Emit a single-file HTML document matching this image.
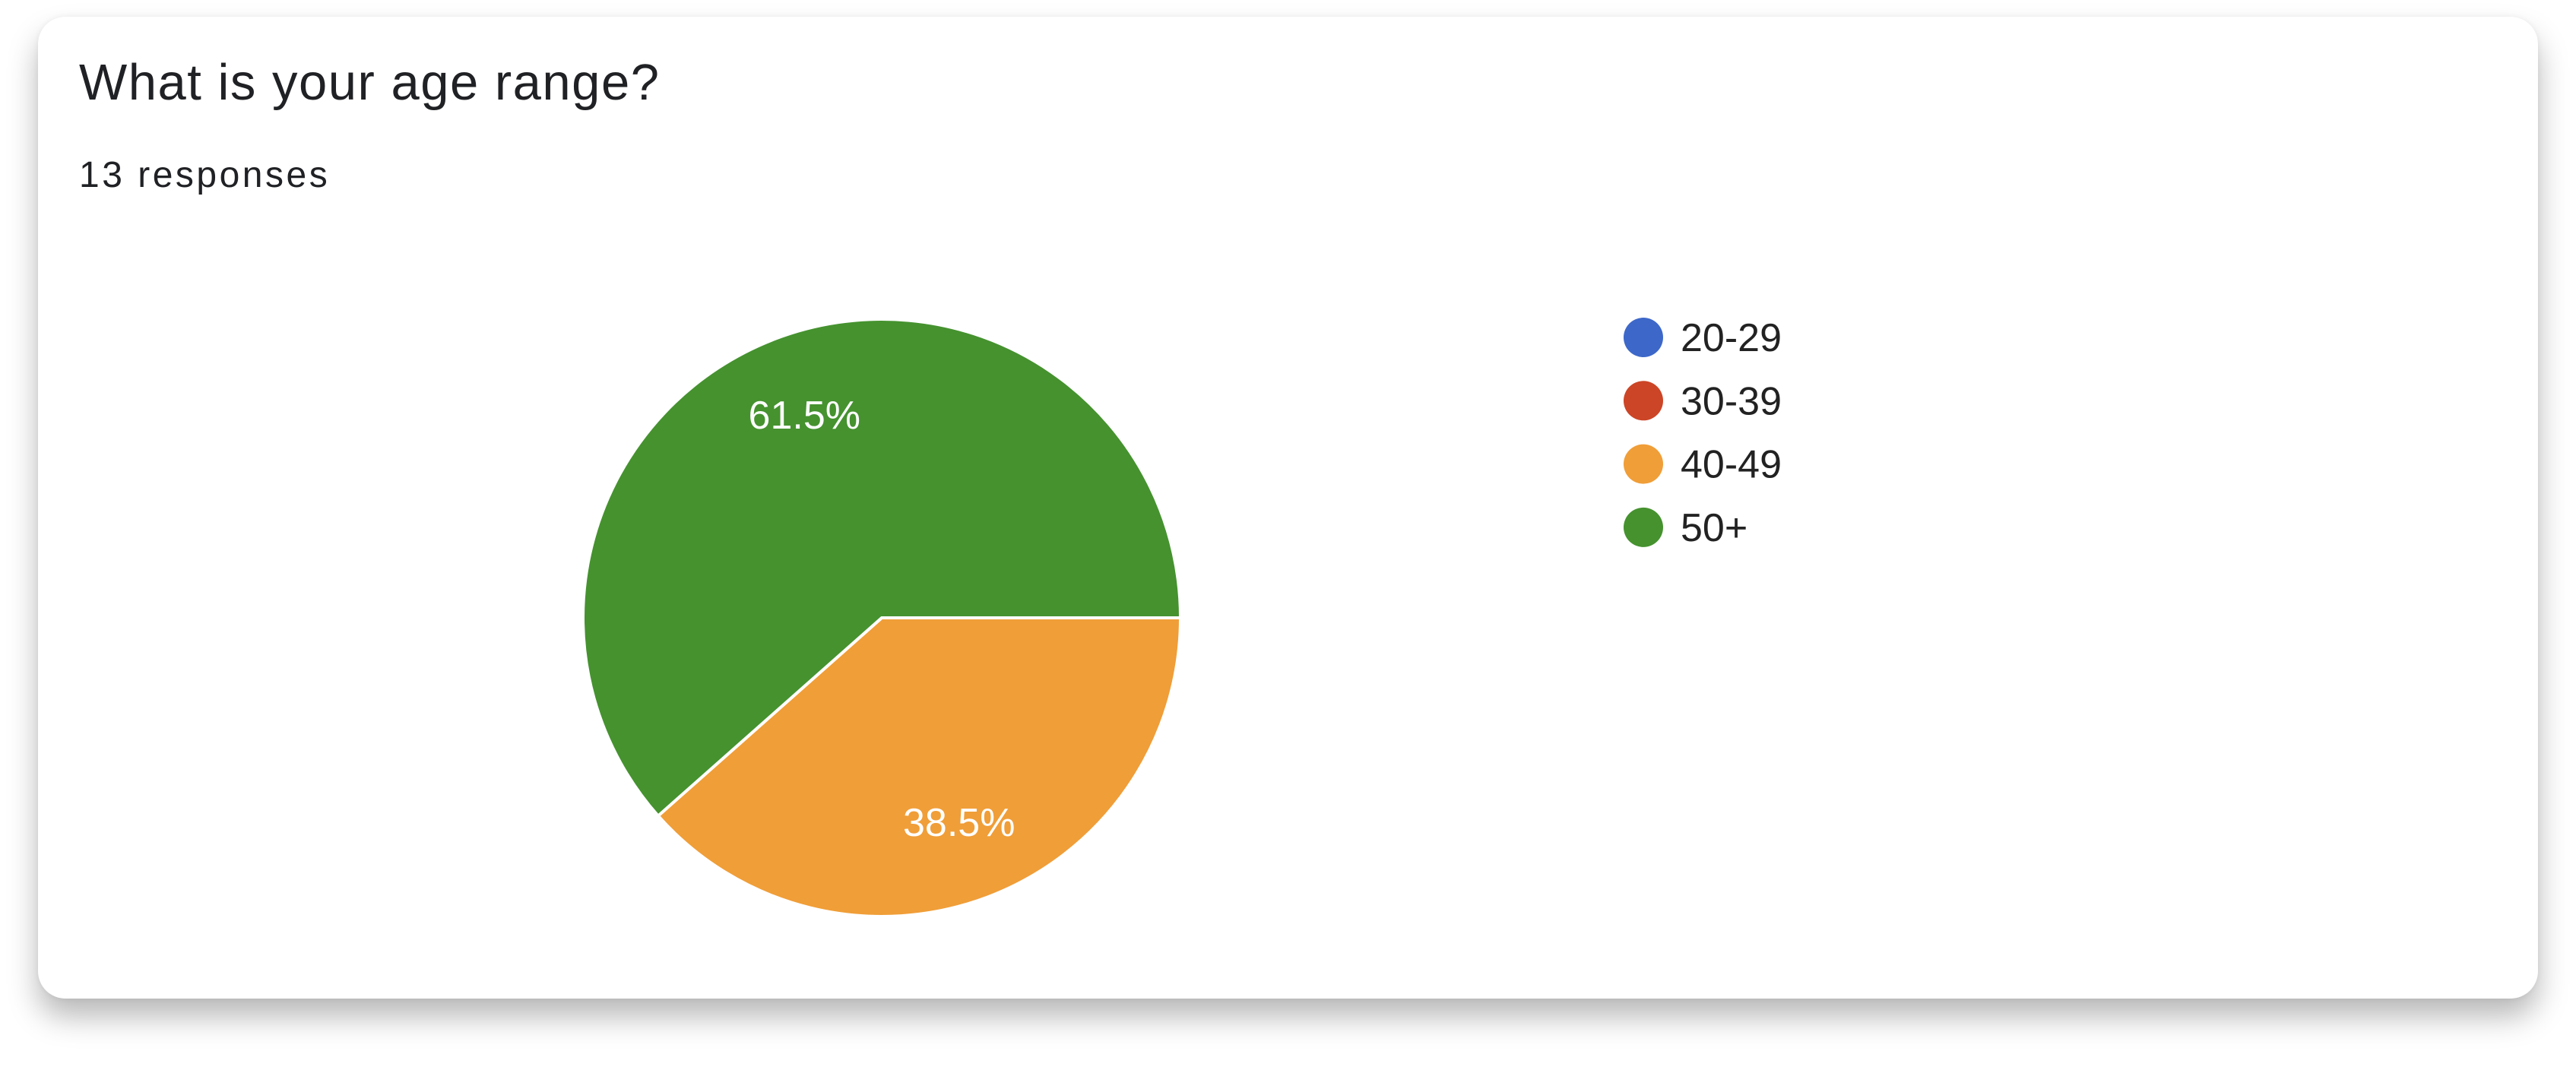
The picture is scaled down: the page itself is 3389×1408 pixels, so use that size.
<!DOCTYPE html>
<html><head><meta charset="utf-8">
<style>
html,body{margin:0;padding:0;background:#fff;width:3389px;height:1408px;overflow:hidden;font-family:"Liberation Sans",Arial,sans-serif;}
#card{position:absolute;left:50px;top:22px;width:3289px;height:1292px;background:#fff;border-radius:36px;box-shadow:0 24px 40px rgba(0,0,0,0.28),0 0 8px rgba(0,0,0,0.06);}
#title{position:absolute;left:104px;top:70px;font-size:67px;letter-spacing:1.5px;color:#202124;white-space:nowrap;}
#sub{position:absolute;left:104px;top:203px;font-size:48px;color:#202124;letter-spacing:3.5px;white-space:nowrap;}
svg{position:absolute;left:0;top:0;}
</style></head><body>
<div id="card"></div>
<div id="title">What is your age range?</div>
<div id="sub">13 responses</div>
<svg id="chart" width="3389" height="1408"></svg>
<script>
const categories=["20-29","30-39","40-49","50+"];
const values=[0,0,5,8];
const colors=["#3d68c9","#cc4526","#f09e38","#45922f"];
const NS="http://www.w3.org/2000/svg";
const svg=document.getElementById('chart');
const cx=1160,cy=813,r=393,startDeg=90;
const total=values.reduce((a,b)=>a+b,0);
function pt(deg,d){const a=deg*Math.PI/180;return [cx+d*Math.sin(a),cy-d*Math.cos(a)];}
let ang=startDeg;
values.forEach((v,i)=>{
  if(v<=0)return;
  const sweep=v/total*360;
  const [x1,y1]=pt(ang,r),[x2,y2]=pt(ang+sweep,r);
  const p=document.createElementNS(NS,'path');
  p.setAttribute('d',`M${cx},${cy} L${x1},${y1} A${r},${r} 0 ${sweep>180?1:0} 1 ${x2},${y2} Z`);
  p.setAttribute('fill',colors[i]);p.setAttribute('stroke','#fff');p.setAttribute('stroke-width','4');
  
  
  svg.appendChild(p);
  const [lx,ly]=pt(ang+sweep/2,r*0.73);
  const t=document.createElementNS(NS,'text');
  t.setAttribute('x',lx);t.setAttribute('y',ly+19);t.setAttribute('text-anchor','middle');
  t.setAttribute('fill','#fff');t.setAttribute('font-size','52');t.setAttribute('font-family','Liberation Sans, Arial, sans-serif');
  t.textContent=(v/total*100).toFixed(1)+'%';
  
  
  svg.appendChild(t);
  ang+=sweep;
});
categories.forEach((c,i)=>{
  const y=444+i*83.3;
  const g=document.createElementNS(NS,'g');
  
  
  const ci=document.createElementNS(NS,'circle');
  ci.setAttribute('cx',2162);ci.setAttribute('cy',y);ci.setAttribute('r',26);ci.setAttribute('fill',colors[i]);
  g.appendChild(ci);
  const t=document.createElementNS(NS,'text');
  t.setAttribute('x',2211);t.setAttribute('y',y+18);t.setAttribute('font-size','52');t.setAttribute('fill','#222');
  t.setAttribute('font-family','Liberation Sans, Arial, sans-serif');
  t.textContent=c;
  g.appendChild(t);
  svg.appendChild(g);
});
</script>
</body></html>
